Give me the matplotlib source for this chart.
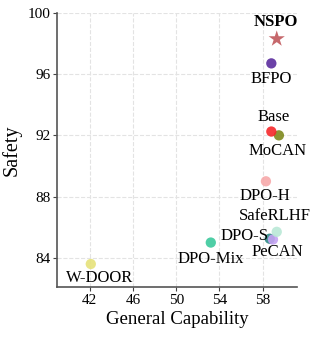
import matplotlib.pyplot as plt

plt.rcParams['font.family'] = ['Liberation Serif', 'DejaVu Serif']

# data
methods = ["W-DOOR", "DPO-Mix", "DPO-S", "PeCAN", "SafeRLHF", "DPO-H", "MoCAN", "Base", "BFPO"]
capability = [42.1, 53.2, 58.65, 58.95, 59.3, 58.3, 59.5, 58.8, 58.8]
safety = [83.6, 85.0, 85.25, 85.2, 85.7, 89.0, 92.0, 92.25, 96.7]
colors = ["#e6e27a", "#3cc99c", "#2f8a86", "#c4a2f2", "#b9e8d6", "#f7a9aa", "#7f8a1e", "#f5282a", "#5b2c9e"]
# label offsets in pixels (dx, dy)
offsets = [(9, -14), (0, -16), (-25, 3), (4, -13), (-2, 16), (-1, -15), (-1, -16), (2, 15), (0, -16)]

nspo_cap = 59.3
nspo_safety = 98.3

fig = plt.figure(figsize=(3.2, 3.38), dpi=100)
ax = fig.add_axes([0.179, 0.151, 0.75, 0.811])

for name, x, y, c, off in zip(methods, capability, safety, colors, offsets):
    ax.scatter(x, y, s=55, color=c, alpha=0.9, edgecolors='none', zorder=3)
    ax.annotate(name, (x, y), xytext=off, textcoords='offset pixels',
                ha='center', va='center', fontsize=12, zorder=4)

ax.scatter(nspo_cap, nspo_safety, s=150, marker='*', color="#c0585c", alpha=0.9,
           edgecolors='none', zorder=3)
ax.annotate("NSPO", (nspo_cap, nspo_safety), xytext=(-1, 17), textcoords='offset pixels',
            ha='center', va='center', fontsize=12, fontweight='bold')

ax.set_xlim(39.0, 61.2)
ax.set_ylim(82.1, 100)
ax.set_xticks([42, 46, 50, 54, 58])
ax.set_yticks([84, 88, 92, 96, 100])
ax.tick_params(labelsize=11, length=3, color='#444444', pad=2)
ax.grid(True, linestyle='--', color='#e3e3e3', linewidth=0.8)
ax.set_axisbelow(True)
for side in ['top', 'right']:
    ax.spines[side].set_visible(False)
for side in ['left', 'bottom']:
    ax.spines[side].set_color('#555555')
    ax.spines[side].set_linewidth(1.2)

ax.set_xlabel("General Capability", fontsize=13.5, labelpad=3)
ax.set_ylabel("Safety", fontsize=14.5, labelpad=4)

fig.savefig("out.png", dpi=100)
